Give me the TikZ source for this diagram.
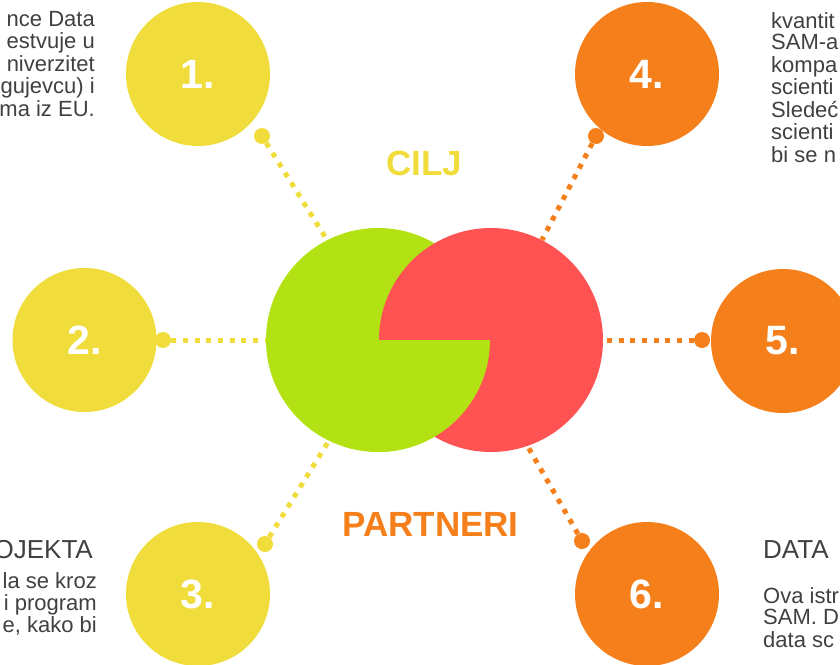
\documentclass[tikz,border=0pt]{standalone}
\usepackage{fontspec}
\setmainfont{Liberation Sans}
\definecolor{cyel}{RGB}{240,220,58}
\definecolor{corg}{RGB}{245,127,26}
\definecolor{cgrn}{RGB}{178,226,20}
\definecolor{cred}{RGB}{255,82,82}
\definecolor{ctxt}{RGB}{64,64,64}
\begin{document}
\begin{tikzpicture}[x=1pt,y=-1pt,
  numc/.style={circle, minimum size=144pt, inner sep=0pt, text=white, font=\fontsize{41}{41}\selectfont\bfseries},
  bigc/.style={circle, minimum size=224pt, inner sep=0pt},
  dotc/.style={circle, minimum size=16pt, inner sep=0pt},
  dotline/.style={line width=5pt, dash pattern=on 5pt off 6.7pt},
  body/.style={inner sep=0pt, text=ctxt, font=\fontsize{22}{21.6}\selectfont},
  head/.style={inner sep=0pt, text=ctxt, font=\fontsize{26}{30}\selectfont},
  titletext/.style={inner sep=0pt, font=\fontsize{35}{35}\selectfont\bfseries}]
\useasboundingbox (0,0) rectangle (840,664);
\clip (0,0) rectangle (840,664);

% central circles
\node[bigc, fill=cgrn] (g) at (378,340) {};
\node[bigc, fill=cred] (r) at (491,340) {};
\begin{scope}
  \clip (370,340) rectangle (491,470);
  \fill[cgrn] (g.center) circle[radius=112pt];
\end{scope}

% numbered circles
\node[numc, fill=cyel] (n1) at (198,74) {1.};
\node[numc, fill=cyel] (n2) at (84.5,340) {2.};
\node[numc, fill=cyel] (n3) at (198,594) {3.};
\node[numc, fill=corg] (n4) at (647,74) {4.};
\node[numc, fill=corg] (n5) at (783,341) {5.};
\node[numc, fill=corg] (n6) at (647,594) {6.};

% connector dots
\node[dotc, fill=cyel] (d1) at (262,136) {};
\node[dotc, fill=cyel] (d2) at (163,340) {};
\node[dotc, fill=cyel] (d3) at (265,544) {};
\node[dotc, fill=corg] (d4) at (596,136) {};
\node[dotc, fill=corg] (d5) at (702,340) {};
\node[dotc, fill=corg] (d6) at (582,541) {};

% connectors
\draw[dotline, cyel] (d1) -- (g.117);
\draw[dotline, cyel] (d2) -- (g.180);
\draw[dotline, cyel] (d3) -- (g.244);
\draw[dotline, corg] (d4) -- (r.63);
\draw[dotline, corg] (d5) -- (r.0);
\draw[dotline, corg] (d6) -- (r.289);

% titles
\node[titletext, text=cyel] (cilj) at (424,163.5) {CILJ};
\node[titletext, text=corg] (partneri) at (430.5,524) {PARTNERI};

% texts
\node[body, anchor=base east] (t1) at (95,26.5) {\begin{tabular}[t]{@{}r@{}}nce Data\\estvuje u\\niverzitet\\gujevcu) i\\ma iz EU.\end{tabular}};
\node[body, anchor=base west] (t4) at (771,28) {\begin{tabular}[t]{@{}l@{}}kvantit\\SAM-a\\kompa\\scienti\\Sledeć\\scienti\\bi se n\end{tabular}};
\node[head, anchor=base east] (h3) at (93,558) {OJEKTA};
\node[body, anchor=base east] (t3) at (97,588) {\begin{tabular}[t]{@{}r@{}}la se kroz\\i program\\e, kako bi\end{tabular}};
\node[head, anchor=base west] (h6) at (763,558) {DATA};
\node[body, anchor=base west] (t6) at (763,603) {\begin{tabular}[t]{@{}l@{}}Ova istr\\SAM. D\\data sc\end{tabular}};
\end{tikzpicture}
\end{document}
